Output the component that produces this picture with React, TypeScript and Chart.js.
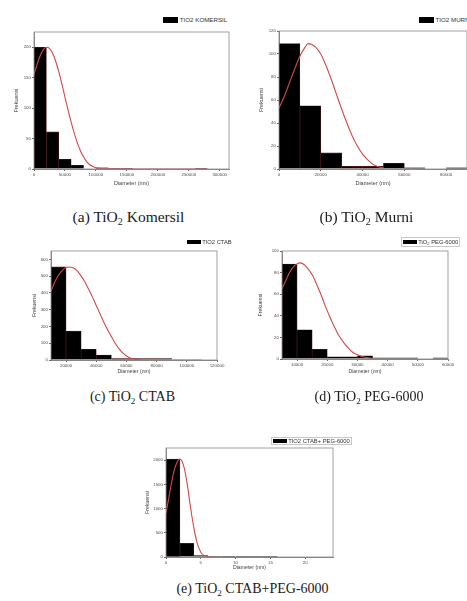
import React, { useEffect, useRef } from "react";
import { Chart, registerables } from "chart.js";

Chart.register(...registerables);

// ---------- (a) TiO2 Komersil ----------
const aBins = [10000, 30000, 50000, 70000, 90000, 110000, 130000, 150000, 170000, 190000, 210000, 230000, 250000, 270000, 290000];
const aCounts = [200, 61, 16, 6, 0, 2, 1, 1, 0, 0, 0, 0, 0, 1, 0];
const aCurveX = [0, 5000, 10000, 15000, 20000, 25000, 30000, 35000, 40000, 45000, 50000, 55000, 60000, 65000, 70000, 75000, 80000, 85000, 90000, 95000, 100000, 110000, 150000, 200000, 250000, 280000];
const aCurveY = [155, 172, 186, 196, 200, 198, 190, 177, 160, 140, 118, 97, 77, 59, 43, 30, 20, 12, 7, 4, 2, 0.5, 0, 0, 0, 0];
const aXTicks = [0, 50000, 100000, 150000, 200000, 250000, 300000];
const aYTicks = [0, 50, 100, 150, 200];

// ---------- (b) TiO2 Murni ----------
const bBins = [5000, 15000, 25000, 35000, 45000, 55000, 65000, 75000, 85000];
const bCounts = [109, 55, 14, 2.3, 2.3, 5, 1, 0, 1];
const bCurveX = [0, 2500, 5000, 7500, 10000, 12500, 14000, 17500, 20000, 22500, 25000, 27500, 30000, 32500, 35000, 37500, 40000, 42500, 45000, 47500, 50000];
const bCurveY = [53, 63, 75, 87, 98, 106, 109, 106, 100, 90, 78, 65, 52, 40, 29, 20, 13, 8, 4, 2, 1];
const bXTicks = [0, 20000, 40000, 60000, 80000];
const bYTicks = [0, 20, 40, 60, 80, 100, 120];

// ---------- (c) TiO2 CTAB ----------
const cBins = [15000, 25000, 35000, 45000, 55000, 65000, 75000, 85000, 95000, 105000, 115000];
const cCounts = [555, 172, 64, 30, 8, 8, 9, 9, 3, 3, 0];
const cCurveX = [10000, 12500, 15000, 17500, 20000, 22000, 25000, 27500, 30000, 32500, 35000, 37500, 40000, 42500, 45000, 47500, 50000, 52500, 55000, 57500, 60000, 62500, 65000, 70000];
const cCurveY = [410, 465, 505, 535, 552, 555, 548, 530, 500, 465, 420, 375, 325, 275, 225, 180, 140, 100, 68, 42, 24, 12, 5, 1];
const cXTicks = [20000, 40000, 60000, 80000, 100000, 120000];
const cYTicks = [0, 100, 200, 300, 400, 500, 600];

// ---------- (d) TiO2 PEG-6000 ----------
const dBins = [7500, 12500, 17500, 22500, 27500, 32500, 37500, 42500, 47500, 52500, 57500];
const dCounts = [88, 27, 9, 2, 2, 3, 1, 1, 1, 0, 1];
const dCurveX = [5000, 6000, 7500, 9000, 10000, 11000, 12500, 14000, 15000, 16500, 18000, 19500, 21000, 22500, 24000, 25500, 27000, 28500, 30000, 31500, 33000, 35000];
const dCurveY = [65, 71, 80, 86, 88, 89, 87, 82, 78, 69, 59, 48, 38, 29, 21, 15, 10, 6, 4, 2.4, 1.4, 0.5];
const dXTicks = [10000, 20000, 30000, 40000, 50000, 60000];
const dYTicks = [0, 20, 40, 60, 80, 100];

// ---------- (e) TiO2 CTAB+PEG-6000 ----------
const eBins = [1, 3, 5, 7, 9, 11, 13, 15, 17, 19, 21, 23];
const eCounts = [2020, 280, 30, 12, 3, 1, 1, 1, 0, 0, 0, 0];
const eCurveX = [0, 0.5, 1, 1.5, 2, 2.5, 3, 3.5, 4, 4.5, 5, 5.5, 6, 7];
const eCurveY = [900, 1300, 1680, 1930, 2020, 1900, 1550, 1050, 600, 280, 100, 30, 8, 0];
const eXTicks = [0, 5, 10, 15, 20];
const eYTicks = [0, 500, 1000, 1500, 2000];

const SANS = "'Liberation Sans', Arial, sans-serif";
const SERIF = "'Liberation Serif', 'Times New Roman', serif";

const framePlugin = {
  id: "frameBox",
  afterDatasetsDraw(chart: any) {
    const { ctx, chartArea } = chart;
    ctx.save();
    ctx.strokeStyle = "#8a8a8a";
    ctx.lineWidth = 0.8;
    ctx.strokeRect(chartArea.left, chartArea.top, chartArea.right - chartArea.left, chartArea.bottom - chartArea.top);
    ctx.restore();
  },
};

type Spec = {
  bins: number[];
  counts: number[];
  curveX: number[];
  curveY: number[];
  xTicks: number[];
  yTicks: number[];
  xMin: number;
  xMax: number;
  yMax: number;
  box: { L: number; T: number; R: number; B: number };
  yW: number;
  xH: number;
  titleSize: number;
};

function Panel({ spec }: { spec: Spec }) {
  const ref = useRef<HTMLCanvasElement>(null);
  const padT = 6;
  const padR = 16;
  const { box, yW, xH } = spec;
  const cw = box.R - box.L + yW + padR;
  const ch = box.B - box.T + padT + xH;

  useEffect(() => {
    if (!ref.current) return;
    const tickFont = { family: SANS, size: 4.4 };
    const titleFont = { family: SANS, size: spec.titleSize };
    const chart = new Chart(ref.current, {
      type: "bar",
      data: {
        datasets: [
          {
            type: "line",
            data: spec.curveX.map((x, i) => ({ x, y: spec.curveY[i] })),
            borderColor: "#d44848",
            borderWidth: 1.1,
            pointRadius: 0,
            cubicInterpolationMode: "monotone",
            fill: false,
            order: 0,
          } as any,
          {
            type: "bar",
            data: spec.bins.map((x, i) => ({ x, y: spec.counts[i] })),
            backgroundColor: "#000000",
            borderColor: "#5a1c1c",
            borderWidth: 0.6,
            barPercentage: 1,
            categoryPercentage: 1,
            order: 1,
          } as any,
        ],
      },
      options: {
        animation: false,
        responsive: false,
        maintainAspectRatio: false,
        layout: { padding: { top: padT, right: padR, left: 0, bottom: 0 } },
        plugins: { legend: { display: false }, tooltip: { enabled: false } },
        scales: {
          x: {
            type: "linear",
            min: spec.xMin,
            max: spec.xMax,
            offset: false,
            grid: { drawOnChartArea: false, drawTicks: true, tickLength: 2, color: "#666", offset: false },
            border: { color: "#666", width: 0.8 },
            afterBuildTicks: (s: any) => {
              s.ticks = spec.xTicks.map((v) => ({ value: v }));
            },
            afterFit: (s: any) => {
              s.height = xH;
            },
            ticks: {
              font: tickFont,
              color: "#4a4a4a",
              padding: 1,
              maxRotation: 0,
              autoSkip: false,
              callback: (v: any) => String(v),
            },
            title: {
              display: true,
              text: "Diameter (nm)",
              font: titleFont,
              color: "#444",
              padding: { top: 0, bottom: 0 },
            },
          },
          y: {
            type: "linear",
            min: 0,
            max: spec.yMax,
            grid: { drawOnChartArea: false, drawTicks: true, tickLength: 2, color: "#666" },
            border: { color: "#666", width: 0.8 },
            afterBuildTicks: (s: any) => {
              s.ticks = spec.yTicks.map((v) => ({ value: v }));
            },
            afterFit: (s: any) => {
              s.width = yW;
            },
            ticks: {
              font: tickFont,
              color: "#4a4a4a",
              padding: 1,
              autoSkip: false,
              callback: (v: any) => String(v),
            },
            title: {
              display: true,
              text: "Frekuensi",
              font: titleFont,
              color: "#444",
              padding: { top: 0, bottom: 0 },
            },
          },
        },
      } as any,
      plugins: [framePlugin],
    });
    return () => chart.destroy();
  }, []);

  return (
    <canvas
      ref={ref}
      width={cw}
      height={ch}
      style={{ position: "absolute", left: box.L - yW, top: box.T - padT, width: cw, height: ch }}
    />
  );
}

function Legend({
  x,
  cy,
  w,
  h,
  fontSize,
  children,
  border,
}: {
  x: number;
  cy: number;
  w: number;
  h: number;
  fontSize: number;
  children: any;
  border?: { l: number; t: number; r: number; b: number };
}) {
  return (
    <>
      {border && (
        <div
          style={{
            position: "absolute",
            left: border.l,
            top: border.t,
            width: border.r - border.l,
            height: border.b - border.t,
            border: "0.8px solid #c8c8c8",
            boxSizing: "border-box",
          }}
        />
      )}
      <div style={{ position: "absolute", left: x, top: cy - h / 2, width: w, height: h, background: "#000" }} />
      <div
        style={{
          position: "absolute",
          left: x + w + 1.5,
          top: cy - fontSize * 0.6,
          fontFamily: SANS,
          fontSize,
          lineHeight: `${fontSize * 1.2}px`,
          color: "#333",
          whiteSpace: "nowrap",
        }}
      >
        {children}
      </div>
    </>
  );
}

function Caption({ cx, cy, label, rest, size }: { cx: number; cy: number; label: string; rest: string; size: number }) {
  return (
    <div
      style={{
        position: "absolute",
        left: cx,
        top: cy - size * 0.6,
        transform: "translateX(-50%)",
        fontFamily: SERIF,
        fontSize: size,
        lineHeight: `${size * 1.2}px`,
        color: "#1a1a1a",
        whiteSpace: "nowrap",
      }}
    >
      {label} TiO
      <sub style={{ fontSize: "0.65em", verticalAlign: "-0.3em", lineHeight: 0 }}>2</sub> {rest}
    </div>
  );
}

const specA: Spec = {
  bins: aBins, counts: aCounts, curveX: aCurveX, curveY: aCurveY, xTicks: aXTicks, yTicks: aYTicks,
  xMin: 0, xMax: 315000, yMax: 225, box: { L: 34, T: 32, R: 229, B: 169 }, yW: 21, xH: 18, titleSize: 5.5,
};
const specB: Spec = {
  bins: bBins, counts: bCounts, curveX: bCurveX, curveY: bCurveY, xTicks: bXTicks, yTicks: bYTicks,
  xMin: 0, xMax: 90000, yMax: 120, box: { L: 279, T: 31, R: 467, B: 169 }, yW: 21, xH: 18, titleSize: 5.5,
};
const specC: Spec = {
  bins: cBins, counts: cCounts, curveX: cCurveX, curveY: cCurveY, xTicks: cXTicks, yTicks: cYTicks,
  xMin: 10000, xMax: 120000, yMax: 650, box: { L: 51, T: 251, R: 217, B: 360 }, yW: 20, xH: 15, titleSize: 5.2,
};
const specD: Spec = {
  bins: dBins, counts: dCounts, curveX: dCurveX, curveY: dCurveY, xTicks: dXTicks, yTicks: dYTicks,
  xMin: 5000, xMax: 60000, yMax: 100, box: { L: 282, T: 251, R: 448, B: 359 }, yW: 25, xH: 16, titleSize: 5.2,
};
const specE: Spec = {
  bins: eBins, counts: eCounts, curveX: eCurveX, curveY: eCurveY, xTicks: eXTicks, yTicks: eYTicks,
  xMin: 0, xMax: 24, yMax: 2250, box: { L: 166, T: 448, R: 333, B: 557 }, yW: 22, xH: 14, titleSize: 5.2,
};

export default function App() {
  return (
    <div
      style={{
        position: "fixed",
        left: 0,
        top: 0,
        width: 467,
        height: 601,
        overflow: "hidden",
        background: "#fff",
      }}
    >
      <Panel spec={specA} />
      <Panel spec={specB} />
      <Panel spec={specC} />
      <Panel spec={specD} />
      <Panel spec={specE} />

      <Legend x={163.3} cy={20} w={15} h={5.4} fontSize={6.2}>TIO2 KOMERSIL</Legend>
      <Legend x={419.3} cy={20} w={14.7} h={5.4} fontSize={6.2}>TIO2 MURNI</Legend>
      <Legend x={187.3} cy={242} w={13.4} h={4} fontSize={5.8}>TIO2 CTAB</Legend>
      <Legend x={402.7} cy={242} w={14} h={4} fontSize={5.8} border={{ l: 400.7, t: 237.3, r: 460, b: 246.7 }}>
        TiO<sub style={{ fontSize: "0.7em", verticalAlign: "-0.3em", lineHeight: 0 }}>2</sub> PEG-6000
      </Legend>
      <Legend x={272.7} cy={441} w={14} h={3.7} fontSize={5.8} border={{ l: 270.7, t: 436.7, r: 351.7, b: 445 }}>
        TIO2 CTAB+ PEG-6000
      </Legend>

      <Caption cx={128.5} cy={217.5} label="(a)" rest="Komersil" size={15.5} />
      <Caption cx={366.5} cy={217.5} label="(b)" rest="Murni" size={15.5} />
      <Caption cx={132.5} cy={397.5} label="(c)" rest="CTAB" size={14} />
      <Caption cx={369} cy={397.5} label="(d)" rest="PEG-6000" size={14} />
      <Caption cx={252.5} cy={589} label="(e)" rest="CTAB+PEG-6000" size={14} />
    </div>
  );
}
